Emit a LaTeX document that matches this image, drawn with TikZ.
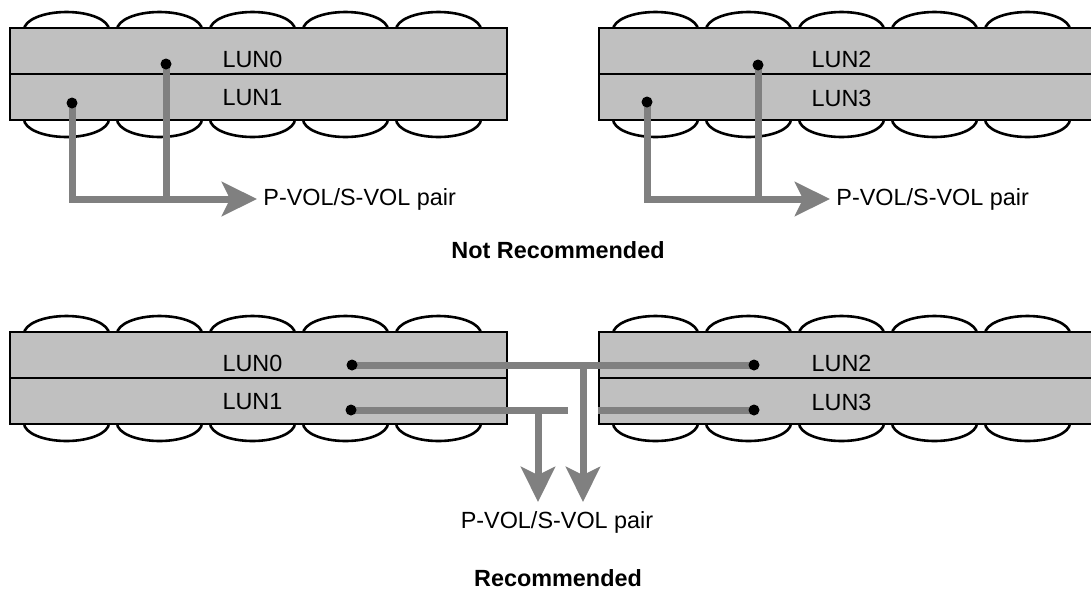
\documentclass[tikz,border=0pt]{standalone}
\usepackage{fontspec}
\setmainfont{Liberation Sans}
\usetikzlibrary{arrows.meta, positioning, calc}
\definecolor{lunfill}{RGB}{192,192,192}
\definecolor{linkgray}{RGB}{128,128,128}
\pgfdeclarelayer{front}
\pgfsetlayers{main,front}

\begin{document}
\begin{tikzpicture}[x=0.5pt, y=-0.5pt,
    lunrow/.style={draw=black, line width=0.85pt, fill=lunfill,
        minimum width=248.5pt, minimum height=23pt, inner sep=0pt},
    disk/.style={draw=black, line width=1.3pt, fill=white},
    lunlbl/.style={font=\fontsize{11.7}{14}\selectfont, inner sep=0pt},
    dot/.style={circle, fill=black, inner sep=0pt, minimum size=5.5pt},
    link/.style={draw=linkgray, line width=3.5pt},
    arr/.style={-{Stealth[length=17.5pt, width=17pt, inset=4pt]}},
    pairlbl/.style={font=\fontsize{11.7}{14}\selectfont, inner xsep=3pt, inner ysep=4.5pt},
    verdict/.style={font=\fontsize{11.7}{14}\selectfont\bfseries}]
    \useasboundingbox (0,0) rectangle (1091,590);
    \clip (0,0) rectangle (1091,590);

    % Disk groups: five disks behind two LUN rows
    \foreach \g/\gx/\gy/\la/\lb in {tl/10/28/0/1, tr/599/28/2/3, bl/10/332/0/1, br/599/332/2/3} {
        \foreach \i in {0,...,4} {
            \draw[disk] (\gx+56.5+93*\i, \gy+2) ellipse [x radius=21.25pt, y radius=9pt];
            \draw[disk] (\gx+56.5+93*\i, \gy+91) ellipse [x radius=21.25pt, y radius=9pt];
        }
        \node[lunrow] (\g-row0) at (\gx+248.5, \gy+23) {};
        \node[lunrow] (\g-row1) at (\gx+248.5, \gy+69) {};
        \node[lunlbl] (\g-lun\la) at (\gx+242.5, \gy+31) {LUN\la};
        \node[lunlbl] (\g-lun\lb) at (\gx+242.5, \gy+70) {LUN\lb};
    }

    % Dots on the LUNs
    \begin{pgfonlayer}{front}
        \node[dot] (tl-d0) at (166,64) {};
        \node[dot] (tl-d1) at (72,103) {};
        \node[dot] (tr-d2) at (758,65) {};
        \node[dot] (tr-d3) at (647,102) {};
        \node[dot] (bl-d0) at (352,365) {};
        \node[dot] (bl-d1) at (351,410) {};
        \node[dot] (br-d2) at (754,365) {};
        \node[dot] (br-d3) at (754,410) {};
    \end{pgfonlayer}

    % Not recommended: both LUNs of one group form the pair
    \node[pairlbl, anchor=west] (tl-pair) at (257,199) {P-VOL/S-VOL pair};
    \draw[link, arr] (tl-d1.center) |- (tl-pair);
    \draw[link] (tl-d0.center) -- (tl-d0 |- tl-pair);

    \node[pairlbl, anchor=west] (tr-pair) at (830,199) {P-VOL/S-VOL pair};
    \draw[link, arr] (tr-d3.center) |- (tr-pair);
    \draw[link] (tr-d2.center) -- (tr-d2 |- tr-pair);

    \node[verdict] (notrec) at (558,250) {Not Recommended};

    % Recommended: LUNs of different groups form the pair
    \node[pairlbl, anchor=north] (b-pair) at (557,502) {P-VOL/S-VOL pair};
    \coordinate (b-j0) at (583,365);
    \coordinate (bl-j1) at (538,410);
    \coordinate (bl-e1) at (568,410);
    \coordinate (br-e3) at (598,410);
    \draw[link] (bl-d0.center) -- (br-d2.center);
    \draw[link] (bl-d1.center) -- (bl-e1);
    \draw[link] (br-d3.center) -- (br-e3);
    \draw[link, arr] (bl-j1) -- (bl-j1 |- b-pair.north);
    \draw[link, arr] (b-j0) -- (b-j0 |- b-pair.north);

    \node[verdict] (rec) at (558,578) {Recommended};
\end{tikzpicture}
\end{document}
